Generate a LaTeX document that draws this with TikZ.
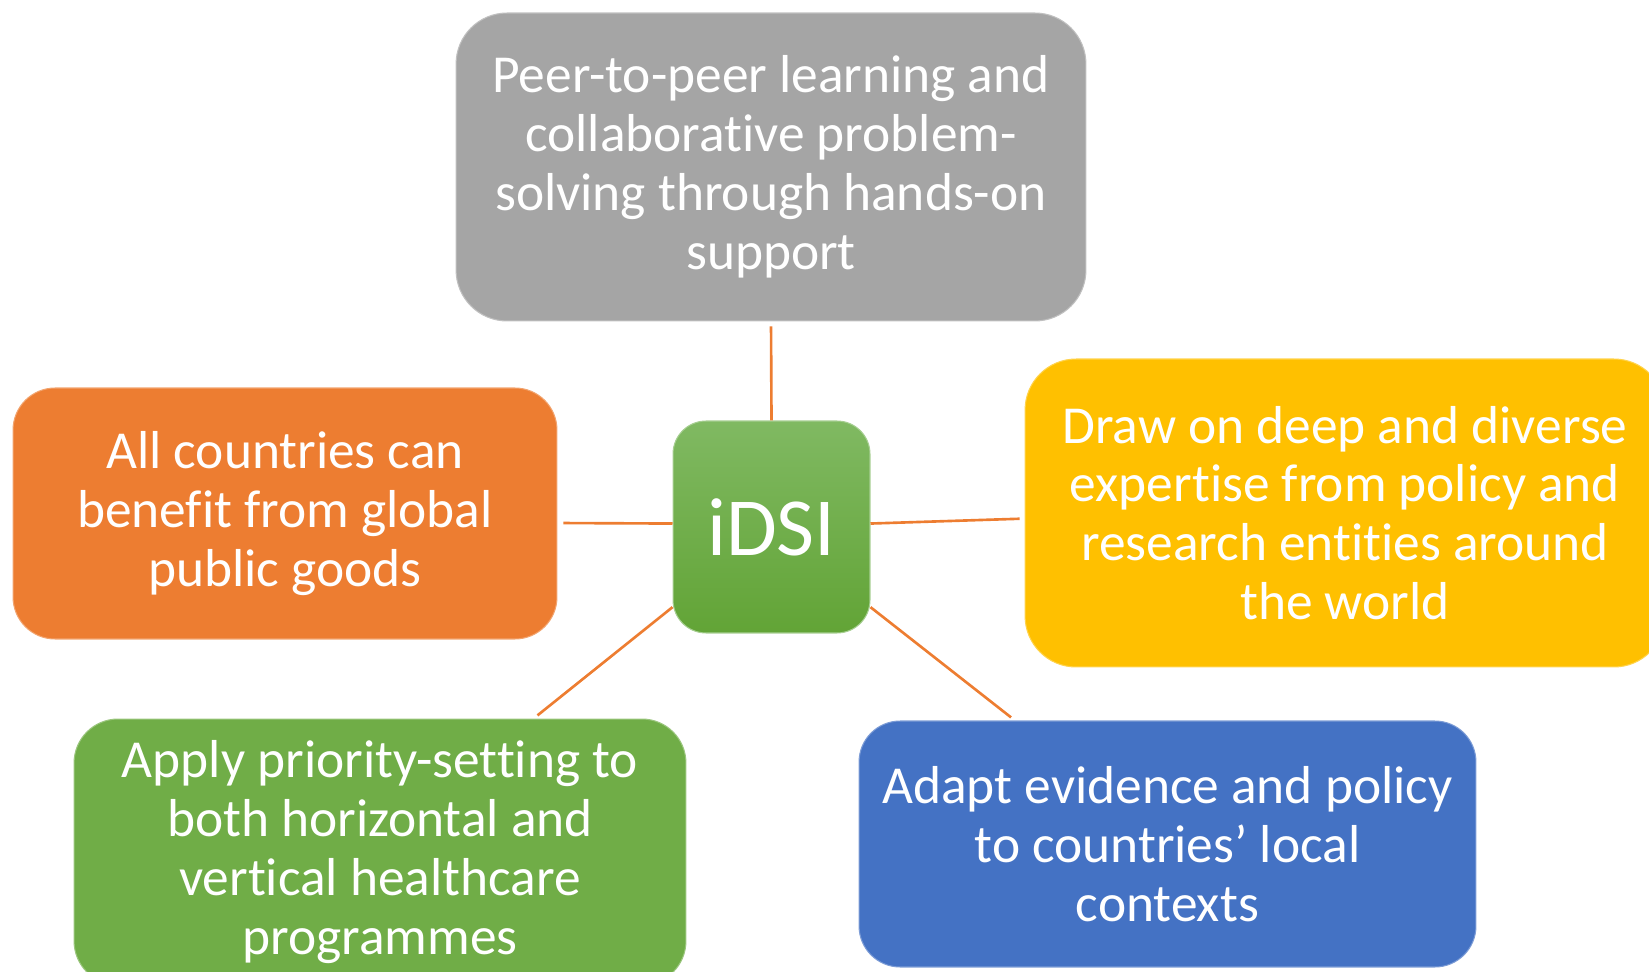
\documentclass[tikz,border=0pt]{standalone}
\usepackage{fontspec}
\setmainfont[Ligatures=NoCommon]{Carlito}

\definecolor{idsigrey}{HTML}{A5A5A5}
\definecolor{idsiorange}{HTML}{ED7D31}
\definecolor{idsiyellow}{HTML}{FFC000}
\definecolor{idsigreen}{HTML}{70AD47}
\definecolor{idsiblue}{HTML}{4472C4}
\definecolor{hubtop}{HTML}{80B962}
\definecolor{hubbot}{HTML}{62A436}

\begin{document}
\begin{tikzpicture}[x=0.02cm, y=-0.02cm,
    box/.style={inner sep=0pt, align=center, text=white,
        font=\fontsize{30.4}{33.5}\selectfont},
    link/.style={idsiorange, line width=1.5pt}]
    \useasboundingbox (0,0) rectangle (1649,972);
    \clip (0,0) rectangle (1649,972);

    % ===== hub =====
    \node[box, draw=hubtop!70!white, line width=0.6pt,
        top color=hubtop, bottom color=hubbot,
        minimum width=3.94cm, minimum height=4.24cm, rounded corners=0.66cm,
        font=\fontsize{47}{50}\selectfont] (hub) at (771.5,527) {iDSI};

    % ===== the five pillars =====
    \node[box, fill=idsigrey, draw=idsigrey!70!white, line width=0.6pt,
        minimum width=12.6cm, minimum height=6.16cm, rounded corners=1.02cm]
        (peer) at (771,167)
        {Peer-to-peer learning and\\collaborative problem-\\solving through hands-on\\support};

    \node[box, fill=idsiorange, draw=idsiorange!70!white, line width=0.6pt,
        minimum width=10.88cm, minimum height=5.02cm, rounded corners=0.84cm]
        (goods) at (285,513.5)
        {All countries can\\benefit from global\\public goods};

    \node[box, fill=idsiyellow, draw=idsiyellow!70!white, line width=0.6pt,
        minimum width=12.8cm, minimum height=6.16cm, rounded corners=1.02cm]
        (expert) at (1345,513)
        {Draw on deep and diverse\\expertise from policy and\\research entities around\\the world};

    \node[box, fill=idsigreen, draw=idsigreen!70!white, line width=0.6pt,
        minimum width=12.24cm, minimum height=5.32cm, rounded corners=0.88cm]
        (prior) at (380,852)
        {Apply priority-setting to\\both horizontal and\\vertical healthcare\\programmes};

    \node[box, fill=idsiblue, draw=idsiblue!70!white, line width=0.6pt,
        minimum width=12.34cm, minimum height=4.92cm, rounded corners=0.82cm]
        (adapt) at (1167.5,844)
        {Adapt evidence and policy\\to countries’ local\\contexts};

    % ===== spokes =====
    \draw[link, shorten >=0.1cm] (hub.north) -- (peer.south);
    \draw[link, shorten >=0.12cm] (hub.178) -- (goods.-2);
    \draw[link, shorten >=0.1cm] (hub.2) -- (expert.181);
    \draw[link, shorten >=0.1cm] (hub.219) -- (prior.41);
    \draw[link, shorten >=0.1cm] (hub.-39) -- (adapt.141);
\end{tikzpicture}
\end{document}
